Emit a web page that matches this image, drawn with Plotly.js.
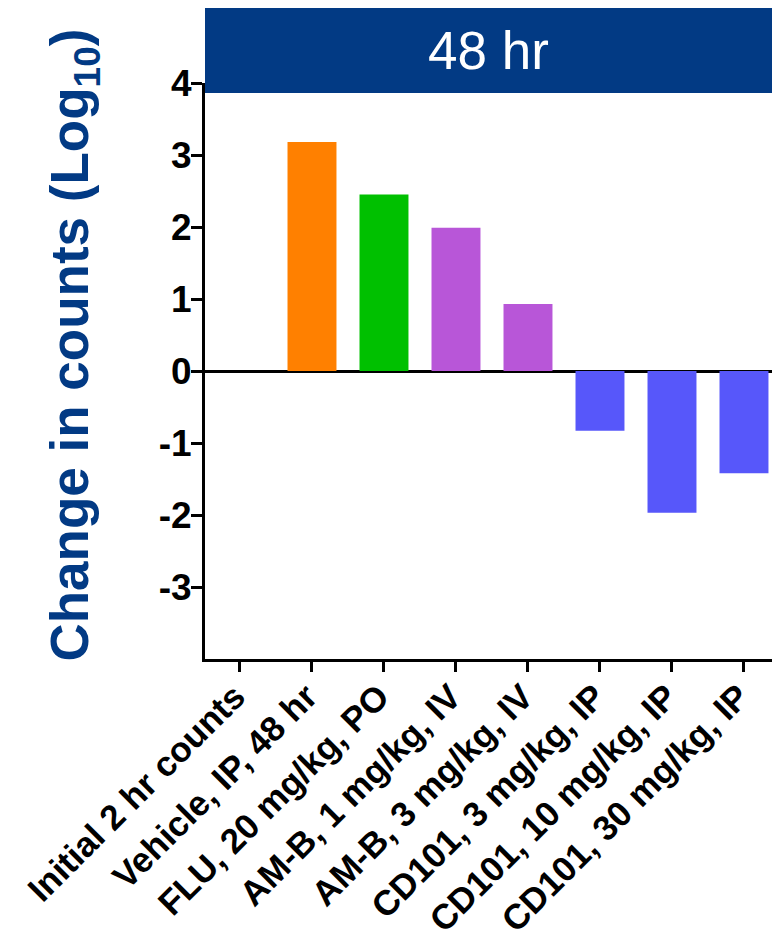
<!DOCTYPE html>
<html>
<head>
<meta charset="utf-8">
<script src="https://cdn.plot.ly/plotly-3.0.1.min.js"></script>
<style>html,body{margin:0;padding:0;background:#fff;}#chart{width:772px;height:950px;}</style>
</head>
<body>
<div id="chart"></div>
<script>
const categories = ["Initial 2 hr counts", "Vehicle, IP, 48 hr", "FLU, 20 mg/kg, PO", "AM-B, 1 mg/kg, IV", "AM-B, 3 mg/kg, IV", "CD101, 3 mg/kg, IP", "CD101, 10 mg/kg, IP", "CD101, 30 mg/kg, IP"];
const values = [0, 3.18, 2.45, 1.99, 0.93, -0.83, -1.97, -1.42];
const barColors = ["#ffffff", "#FF8000", "#00C000", "#B856D8", "#B856D8", "#5757FA", "#5757FA", "#5757FA"];
const yTickVals = [-3, -2, -1, 0, 1, 2, 3, 4];
const yTickText = ["-3", "-2", "-1", "0", "1", "2", "3", "4"];
const panelTitle = "48 hr";
const yTitle = "Change in counts (Log<sub>10</sub>)";

const navy = "#023A84";
const font = "Liberation Sans, Arial, sans-serif";

const trace = {
  type: "bar",
  x: categories,
  y: values,
  width: 0.68,
  marker: { color: barColors, line: { width: 0 } },
  hoverinfo: "skip"
};

const layout = {
  width: 772,
  height: 950,
  margin: { l: 205, r: 0, t: 83, b: 291, pad: 0 },
  paper_bgcolor: "#ffffff",
  plot_bgcolor: "#ffffff",
  showlegend: false,
  bargap: 0.3,
  font: { family: font, color: "#000" },
  xaxis: {
    type: "category",
    range: [-0.486, 7.389],
    showline: true, linecolor: "#000", linewidth: 3,
    ticks: "outside", ticklen: 10, tickwidth: 3, tickcolor: "#000",
    tickangle: -45,
    ticklabelstandoff: -10,
    ticklabelshift: -5,
    tickfont: { family: font, size: 35, color: "#000", weight: "bold" },
    showgrid: false, zeroline: false, fixedrange: true
  },
  yaxis: {
    range: [-4, 4],
    tickvals: yTickVals, ticktext: yTickText,
    showline: true, linecolor: "#000", linewidth: 3,
    ticks: "outside", ticklen: 11, tickwidth: 3, tickcolor: "#000",
    ticklabelstandoff: -8,
    tickfont: { family: font, size: 37, color: "#000", weight: "bold" },
    showgrid: false,
    zeroline: true, zerolinecolor: "#000", zerolinewidth: 3,
    fixedrange: true
  },
  shapes: [
    { type: "rect", xref: "paper", yref: "paper", x0: 0, x1: 1.01, y0: 0.9826, y1: 1.13,
      fillcolor: navy, line: { width: 0 }, layer: "above" }
  ],
  annotations: [
    { xref: "paper", yref: "paper", x: 0.5, y: 1.056, xanchor: "center", yanchor: "middle",
      text: panelTitle, showarrow: false,
      font: { family: font, size: 53, color: "#ffffff" } },
    { xref: "paper", yref: "paper", x: -0.232, y: 0.545, xanchor: "center", yanchor: "middle",
      text: yTitle, textangle: -90, showarrow: false,
      font: { family: font, size: 53, color: navy, weight: "bold" } }
  ]
};

Plotly.newPlot("chart", [trace], layout, { displayModeBar: false, staticPlot: true });
</script>
</body>
</html>
